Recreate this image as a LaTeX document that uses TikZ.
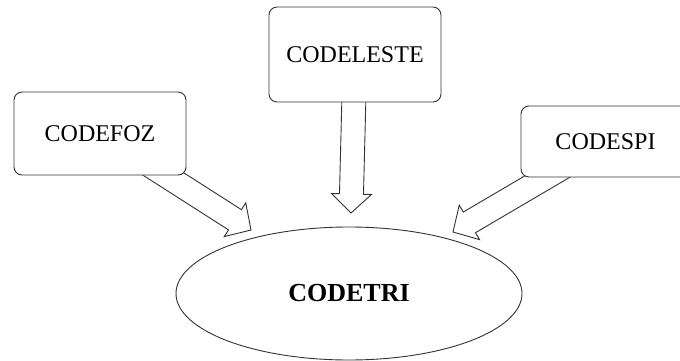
\documentclass[tikz,border=0pt]{standalone}
\usepackage{fontspec}
\setmainfont{Liberation Serif}
\usetikzlibrary{calc,shapes.geometric}
\tikzset{
  lw/.style={line width=0.9pt, draw=black!80},
  box/.style={lw, rectangle, rounded corners=8pt, fill=white, inner sep=0pt,
    font=\fontsize{24}{28}\selectfont},
  hub/.style={lw, ellipse, fill=white, inner sep=0pt,
    font=\fontsize{26}{30}\selectfont\bfseries},
  fatarr/.style={lw, fill=white, line join=miter}
}
\newcommand\fatarrow[2]{%
  \coordinate (fa-c) at ($(#2)!19pt!(#1)$);
  \draw[fatarr] ($(#1)!12pt!90:(#2)$) -- ($(fa-c)!12pt!-90:(#1)$)
    -- ($(fa-c)!20pt!-90:(#1)$) -- (#2) -- ($(fa-c)!20pt!90:(#1)$)
    -- ($(fa-c)!12pt!90:(#1)$) -- ($(#1)!12pt!-90:(#2)$) -- cycle;%
}
\begin{document}
\begin{tikzpicture}[x=1pt,y=-1pt]
  \useasboundingbox (0,0) rectangle (680,361);
  \clip (0,0) rectangle (680,361);
  % anchor points
  \coordinate (fozc) at (100,133.5);
  \coordinate (lestec) at (355,54.5);
  \coordinate (spic) at (607,141.5);
  \coordinate (t1) at (251,230);
  \coordinate (t2) at (351,213);
  \coordinate (t3) at (453,232);
  % block arrows (behind the boxes)
  \fatarrow{fozc}{t1}
  \fatarrow{lestec}{t2}
  \fatarrow{spic}{t3}
  % nodes
  \node[box, minimum width=172pt, minimum height=83pt] (foz) at (fozc) {CODEFOZ};
  \node[box, minimum width=172pt, minimum height=95pt] (leste) at (lestec) {\raisebox{-2.5pt}{CODELESTE}};
  \node[box, minimum width=172pt, minimum height=71pt] (spi) at (spic) {\hspace*{-3pt}CODESPI};
  \node[hub, minimum width=346pt, minimum height=133pt] (tri) at (349,293.5) {\raisebox{-3pt}{CODETRI}};
\end{tikzpicture}
\end{document}
